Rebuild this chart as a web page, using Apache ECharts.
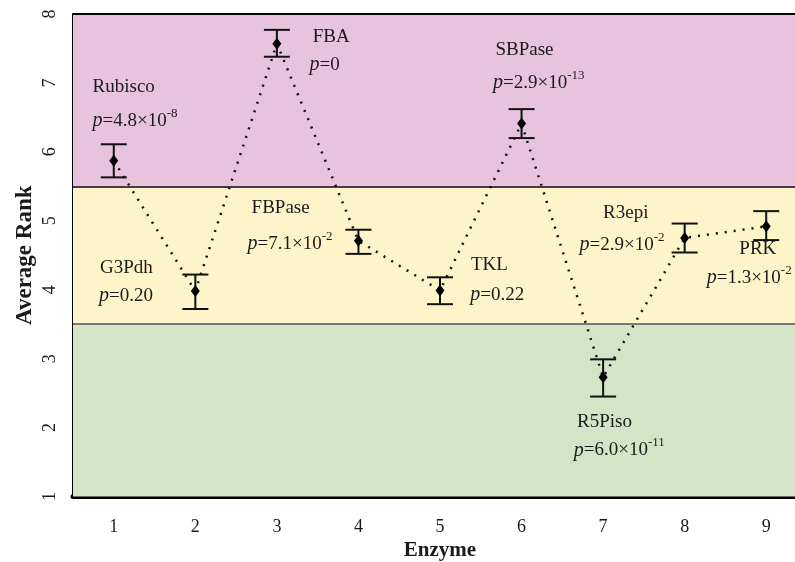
<!DOCTYPE html>
<html>
<head>
<meta charset="utf-8">
<script src="https://cdn.jsdelivr.net/npm/echarts@6/dist/echarts.min.js"></script>
<style>html,body{margin:0;padding:0;background:#fff}#c{width:795px;height:562px}</style>
</head>
<body>
<div id="c"></div>
<script>
// ---- data ----
var enzymes = ['1', '2', '3', '4', '5', '6', '7', '8', '9'];
var meanRank = [5.87, 3.98, 7.57, 4.71, 3.99, 6.41, 2.73, 4.75, 4.92];
var upperRank = [6.11, 4.22, 7.77, 4.87, 4.18, 6.62, 2.99, 4.96, 5.14];
var lowerRank = [5.63, 3.72, 7.38, 4.52, 3.79, 6.20, 2.45, 4.54, 4.72];
var yTicks = [1, 2, 3, 4, 5, 6, 7, 8];
var bands = [[5.5, 8], [3.5, 5.5], [1, 3.5]];
var names = ['Rubisco', 'G3Pdh', 'FBA', 'FBPase', 'TKL', 'SBPase', 'R5Piso', 'R3epi', 'PRK'];
var pMant = ['4.8', '0.20', '0', '7.1', '0.22', '2.9', '6.0', '2.9', '1.3'];
var pExp = ['-8', '', '', '-2', '', '-13', '-11', '-2', '-2'];
// annotation anchors (data coords)
var nameX = [0.74, 0.83, 3.44, 2.69, 5.38, 5.68, 6.68, 7.00, 8.67];
var nameY = [6.94, 4.31, 7.66, 5.18, 4.36, 7.48, 2.08, 5.11, 4.59];
var pX = [0.74, 0.82, 3.40, 2.64, 5.37, 5.65, 6.64, 6.71, 8.27];
var pY = [6.45, 3.91, 7.26, 4.66, 3.93, 7.00, 1.67, 4.65, 4.17];

var xVals = enzymes.map(function (e) { return Number(e); });
var serif = "'Liberation Serif','DejaVu Serif',serif";
var txt = '#1a1a1a';

var nameData = names.map(function (n, i) { return { value: [nameX[i], nameY[i]], label: { formatter: n } }; });
var pData = pMant.map(function (m, i) {
  var s = '{i|p}{t|=' + m + (pExp[i] ? '×10' : '') + '}' + (pExp[i] ? '{s|' + pExp[i] + '}' : '');
  return { value: [pX[i], pY[i]], label: { formatter: s } };
});

var chart = echarts.init(document.getElementById('c'));
chart.setOption({
  animation: false,
  grid: { left: 73, right: -12, top: 14, bottom: 65.5, containLabel: false, outerBoundsMode: 'none' },
  xAxis: {
    type: 'value', min: 0.5, max: 9.5,
    name: 'Enzyme', nameLocation: 'middle', nameGap: 44, nameMoveOverlap: false,
    nameTextStyle: { fontFamily: serif, fontWeight: 'bold', fontSize: 21, color: txt },
    axisLine: { show: true, onZero: false, lineStyle: { color: '#000', width: 5 } },
    axisTick: { show: true, inside: true, length: 10, lineStyle: { color: '#000', width: 1.2 }, customValues: xVals },
    axisLabel: { fontFamily: serif, fontSize: 18, color: txt, margin: 22, customValues: xVals, formatter: function (v) { return enzymes[xVals.indexOf(v)]; } },
    splitLine: { show: false }
  },
  yAxis: {
    type: 'value', min: 1, max: 8, interval: 1,
    name: 'Average Rank', nameLocation: 'middle', nameGap: 36, nameMoveOverlap: false,
    nameTextStyle: { fontFamily: serif, fontWeight: 'bold', fontSize: 23, color: txt },
    axisLine: { show: true, lineStyle: { color: '#000', width: 2 } },
    axisTick: { show: true, inside: true, length: 10, lineStyle: { color: '#000', width: 1.5 } },
    axisLabel: { fontFamily: serif, fontSize: 18, color: txt, rotate: 90, margin: 14,
      formatter: function (v) { return yTicks.indexOf(v) >= 0 ? String(v) : ''; } },
    splitLine: { show: false }
  },
  series: [
    {
      type: 'line', data: [], silent: true,
      markArea: {
        silent: true,
        data: [
          [{ yAxis: bands[0][0], itemStyle: { color: '#e8c3dd' } }, { yAxis: bands[0][1] }],
          [{ yAxis: bands[1][0], itemStyle: { color: '#fdf5c9' } }, { yAxis: bands[1][1] }],
          [{ yAxis: bands[2][0], itemStyle: { color: '#d3e5c6' } }, { yAxis: bands[2][1] }]
        ]
      },
      markLine: {
        silent: true, symbol: 'none', label: { show: false },
        data: [
          { yAxis: bands[0][0], lineStyle: { color: '#4a3b46', width: 1.8, type: 'solid' } },
          { yAxis: bands[1][0], lineStyle: { color: '#555', width: 1.5, type: 'solid' } },
          { yAxis: bands[0][1], lineStyle: { color: '#000', width: 2, type: 'solid' } }
        ]
      }
    },
    {
      type: 'custom', silent: true, z: 4,
      data: xVals.map(function (x, i) { return [x, lowerRank[i], upperRank[i]]; }),
      renderItem: function (params, api) {
        var lo = api.coord([api.value(0), api.value(1)]);
        var hi = api.coord([api.value(0), api.value(2)]);
        var w = 13;
        var st = { stroke: '#111', lineWidth: 2 };
        return { type: 'group', children: [
          { type: 'line', shape: { x1: lo[0], y1: lo[1], x2: hi[0], y2: hi[1] }, style: st },
          { type: 'line', shape: { x1: lo[0] - w, y1: lo[1], x2: lo[0] + w, y2: lo[1] }, style: st },
          { type: 'line', shape: { x1: hi[0] - w, y1: hi[1], x2: hi[0] + w, y2: hi[1] }, style: st }
        ] };
      }
    },
    {
      type: 'line', z: 5,
      data: xVals.map(function (x, i) { return [x, meanRank[i]]; }),
      symbol: 'diamond', symbolSize: [9, 12], showSymbol: true,
      itemStyle: { color: '#000' },
      lineStyle: { color: '#111', width: 2.5, type: [2, 7] }
    },
    {
      type: 'scatter', z: 6, symbolSize: 0, silent: true,
      itemStyle: { opacity: 1 },
      data: nameData,
      label: { show: true, position: 'right', distance: 0, fontFamily: serif, fontSize: 19, color: txt, opacity: 1 }
    },
    {
      type: 'scatter', z: 6, symbolSize: 0, silent: true,
      itemStyle: { opacity: 1 },
      data: pData,
      label: {
        show: true, position: 'right', distance: 0, fontFamily: serif, fontSize: 19, color: txt, opacity: 1,
        rich: {
          i: { fontFamily: serif, fontStyle: 'italic', fontSize: 20, color: txt, lineHeight: 28, verticalAlign: 'middle' },
          t: { fontFamily: serif, fontSize: 19, color: txt, lineHeight: 28, verticalAlign: 'middle' },
          s: { fontFamily: serif, fontSize: 13, color: txt, lineHeight: 13, verticalAlign: 'top' }
        }
      }
    }
  ]
});
</script>
</body>
</html>
